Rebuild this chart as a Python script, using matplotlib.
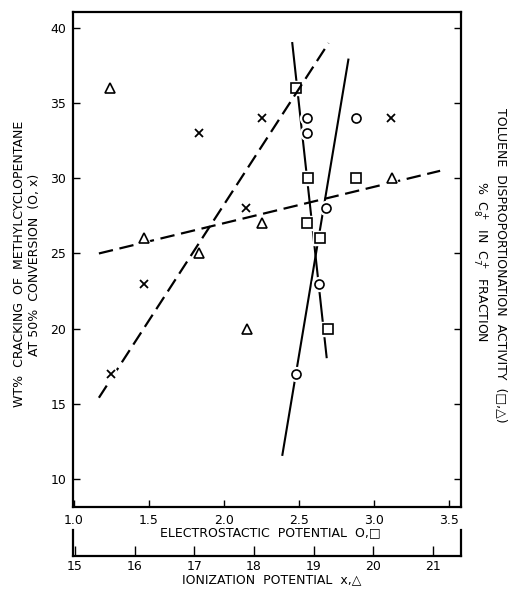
import matplotlib
matplotlib.use("Agg")
import matplotlib.pyplot as plt

# circles: electrostatic potential vs wt% cracking
circ_x = [2.55, 2.55, 2.88, 2.68, 2.63, 2.48]
circ_y = [34, 33, 34, 28, 23, 17]
# squares: electrostatic potential vs toluene disproportionation
sq_x = [2.48, 2.56, 2.88, 2.55, 2.64, 2.69]
sq_y = [36, 30, 30, 27, 26, 20]
# crosses: ionization potential vs wt% cracking
cross_x = [17.07, 18.13, 20.3, 17.87, 16.16, 15.61]
cross_y = [33, 34, 34, 28, 23, 17]
# triangles: ionization potential vs toluene disproportionation
tri_x = [15.59, 16.16, 17.08, 18.13, 20.32, 17.88]
tri_y = [36, 26, 25, 27, 30, 20]

# drawn trend lines (end points)
circ_line_x = [2.389, 2.829]
circ_line_y = [11.6, 37.9]
sq_line_x = [2.455, 2.684]
sq_line_y = [39.0, 18.1]
cross_line_x = [15.40, 19.25]
cross_line_y = [15.4, 39.0]
tri_line_x = [15.40, 21.12]
tri_line_y = [25.0, 30.5]

es_ticks = [1.0, 1.5, 2.0, 2.5, 3.0, 3.5]
ion_ticks = [15, 16, 17, 18, 19, 20, 21]
y_ticks = [10, 15, 20, 25, 30, 35, 40]

plt.rcParams['font.family'] = ['DejaVu Sans']
fs = 9

fig = plt.figure(figsize=(5.12, 5.90), dpi=100)
ax = fig.add_axes([0.1426, 0.1407, 0.7578, 0.839])
ax.set_xlim(0.993, 3.58)
ax.set_ylim(8.13, 41.07)
ax.set_xticks(es_ticks)
ax.set_xticklabels(["%.1f" % v for v in es_ticks], fontsize=fs)
ax.set_yticks(y_ticks)
ax.set_yticklabels([str(v) for v in y_ticks], fontsize=fs)
ax.tick_params(direction='in', length=5, width=1, right=True, pad=5)
for s in ax.spines.values():
    s.set_linewidth(1.6)

# twin axes carrying the ionization-potential data
axi = ax.twiny()
axi.set_xlim(14.966, 21.47)
axi.set_ylim(8.13, 41.07)
axi.set_xticks([])
for s in axi.spines.values():
    s.set_visible(False)

dash = (0, (6.5, 3))
ax.plot(circ_line_x, circ_line_y, color='black', lw=1.5, zorder=2)
ax.plot(sq_line_x, sq_line_y, color='black', lw=1.5, zorder=2)
axi.plot(cross_line_x, cross_line_y, color='black', lw=1.6, ls=dash, zorder=2)
axi.plot(tri_line_x, tri_line_y, color='black', lw=1.6, ls=dash, zorder=2)

# white halo behind markers so the lines break around them
ax.plot(circ_x, circ_y, 'o', ms=10, color='white', zorder=3)
ax.plot(sq_x, sq_y, 's', ms=10, color='white', zorder=3)
axi.plot(cross_x, cross_y, 'o', ms=9, color='white', zorder=3)
axi.plot(tri_x, tri_y, '^', ms=10, color='white', zorder=3)

ax.plot(circ_x, circ_y, 'o', ms=6.5, mfc='white', mec='black', mew=1.2, zorder=4)
ax.plot(sq_x, sq_y, 's', ms=6.5, mfc='white', mec='black', mew=1.2, zorder=4)
axi.plot(cross_x, cross_y, 'x', ms=5.5, color='black', mew=1.3, zorder=4)
axi.plot(tri_x, tri_y, '^', ms=7, mfc='white', mec='black', mew=1.2, zorder=4)

# separate ionization potential scale below
axs = fig.add_axes([0.1426, 0.0576, 0.7578, 0.044])
axs.set_xlim(14.966, 21.47)
axs.set_yticks([])
axs.set_xticks(ion_ticks)
axs.set_xticklabels([str(v) for v in ion_ticks], fontsize=fs)
axs.tick_params(direction='in', length=7, width=1, pad=3)
axs.spines['top'].set_visible(False)
for s in ['bottom', 'left', 'right']:
    axs.spines[s].set_linewidth(1.6)
axs.patch.set_alpha(0)

fig.text(0.528, 0.0966, "ELECTROSTACTIC  POTENTIAL  O,\u25a1", fontsize=fs,
         ha='center', va='center')
fig.text(0.531, 0.017, "IONIZATION  POTENTIAL  x,\u25b3", fontsize=fs,
         ha='center', va='center')

fig.text(0.039, 0.553, "WT%  CRACKING  OF  METHYLCYCLOPENTANE", fontsize=fs,
         rotation=90, ha='center', va='center')
fig.text(0.068, 0.551, "AT 50%  CONVERSION  (O, x)", fontsize=fs,
         rotation=90, ha='center', va='center')
fig.text(0.980, 0.551, "TOLUENE  DISPROPORTIONATION  ACTIVITY  (\u25a1,\u25b3)",
         fontsize=fs, rotation=-90, ha='center', va='center')
fig.text(0.9375, 0.556, r"%  C$_8^+$  IN  C$_7^+$  FRACTION", fontsize=fs,
         rotation=-90, ha='center', va='center')

fig.savefig("out.png", dpi=100)
